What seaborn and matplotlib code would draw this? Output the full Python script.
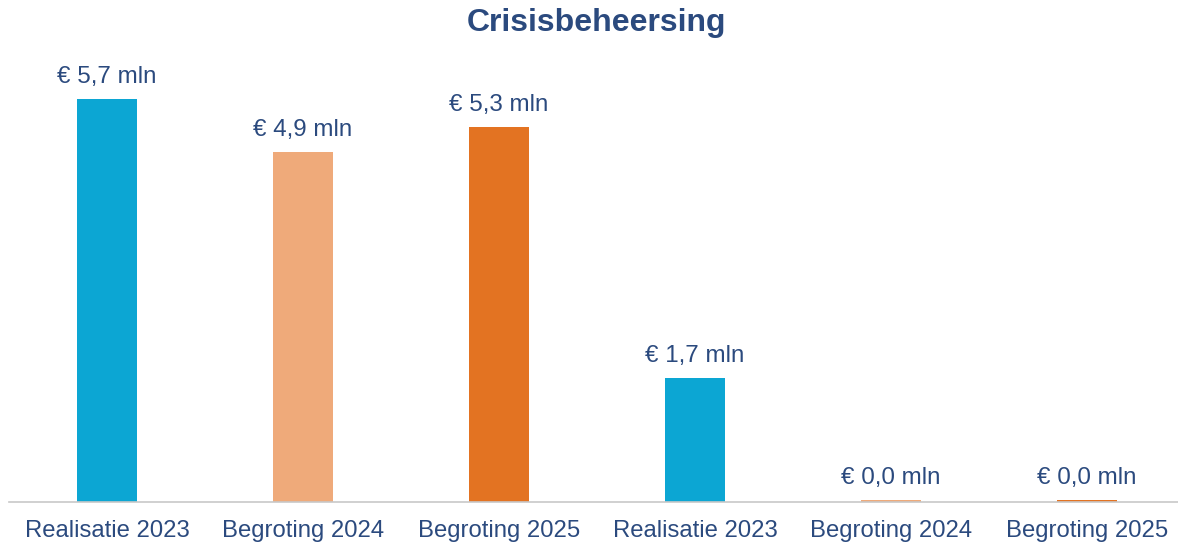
import matplotlib
matplotlib.use("Agg")
import matplotlib.pyplot as plt
import seaborn as sns
import pandas as pd

categories = ["Realisatie 2023", "Begroting 2024", "Begroting 2025",
              "Realisatie 2023", "Begroting 2024", "Begroting 2025"]
values = [5.65, 4.91, 5.26, 1.74, 0.02, 0.02]
labels = ["€ 5,7 mln", "€ 4,9 mln", "€ 5,3 mln", "€ 1,7 mln", "€ 0,0 mln", "€ 0,0 mln"]
colors = ["#0CA6D3", "#EFAA7A", "#E37322", "#0CA6D3", "#EFAA7A", "#E37322"]

sns.set_theme(style="white")
plt.rcParams['font.family'] = ['Liberation Sans', 'DejaVu Sans']
text_color = "#2B4A7E"

df = pd.DataFrame({"pos": [str(i) for i in range(len(values))], "value": values})

fig = plt.figure(figsize=(11.78, 5.46), dpi=100)
ax = fig.add_axes([9/1178, 44.5/546, 1176/1178, 427/546])
sns.barplot(data=df, x="pos", y="value", hue="pos", palette=colors, legend=False,
            width=0.31, ax=ax, saturation=1, linewidth=0)
ax.set_xlim(-0.5, 5.5)
ax.set_ylim(0, 6)
ax.set_xticks(range(len(categories)))
ax.set_xticklabels(categories, fontsize=17.2, color=text_color)
ax.tick_params(axis='x', length=0, pad=13.5)
ax.set_yticks([])
ax.set_xlabel("")
ax.set_ylabel("")
for s in ["top", "left", "right"]:
    ax.spines[s].set_visible(False)
ax.spines["bottom"].set_color("#C8C8C8")
ax.spines["bottom"].set_linewidth(1.2)
ax.spines["bottom"].set_linestyle((0, (1, 1)))

for i, (v, lab) in enumerate(zip(values, labels)):
    ax.annotate(lab, (i, v), xytext=(0, 11.5), textcoords="offset points",
                ha="center", va="baseline", fontsize=17.4, color=text_color)

fig.text(597/1178, 1 - 23/546, "Crisisbeheersing", ha="center", va="center",
         fontsize=23, fontweight="bold", color=text_color)

fig.savefig("out.png", dpi=100, facecolor="white")
